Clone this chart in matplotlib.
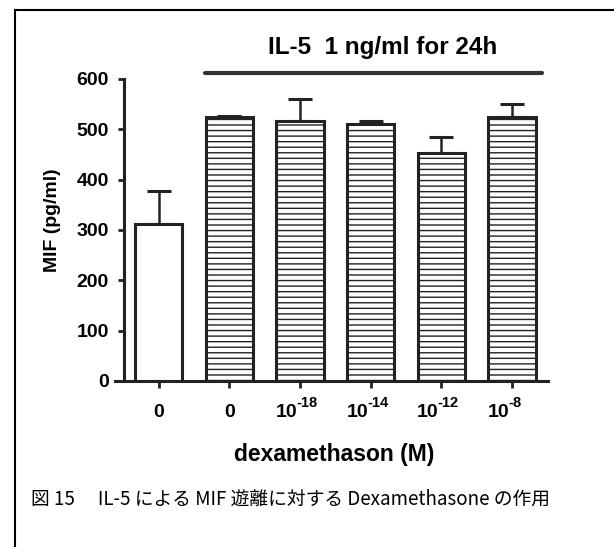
import numpy as np
import matplotlib
matplotlib.use("Agg")
import matplotlib.pyplot as plt
from matplotlib.lines import Line2D

# MIF 測定値 (pg/ml), 平均と SD
groups = ["0", "0", "-18", "-14", "-12", "-8"]   # 0 か 10 の指数
mif_mean = [312, 524, 516, 510, 453, 524]
mif_sd = [65, 2, 44, 7, 32, 26]
il5_treated = [False, True, True, True, True, True]

yticks = [0, 100, 200, 300, 400, 500, 600]

plt.rcParams['font.family'] = ['Liberation Sans', 'DejaVu Sans']
plt.rcParams['hatch.linewidth'] = 1.0

fig = plt.figure(figsize=(6.14, 5.47), dpi=100)
ax = fig.add_axes([0.1873, 0.3035, 0.7052, 0.5521])

x = np.arange(len(groups))
ink = '#222222'
for i in range(len(groups)):
    ax.bar(x[i], mif_mean[i], width=0.67, color='white', edgecolor=ink,
           linewidth=2.2, hatch='---' if il5_treated[i] else None, zorder=2)
    ax.errorbar(x[i], mif_mean[i], yerr=[[0], [mif_sd[i]]], fmt='none',
                ecolor=ink, elinewidth=1.8, capsize=8.5, capthick=2.2, zorder=1)

ax.set_xlim(-0.62, 5.51)
ax.set_ylim(0, 600)

ax.spines['top'].set_visible(False)
ax.spines['right'].set_visible(False)
ax.spines['left'].set_position(('data', -0.49))
for side in ['left', 'bottom']:
    ax.spines[side].set_linewidth(2.2)
    ax.spines[side].set_color(ink)

ax.set_yticks(yticks)
ax.set_yticklabels([str(v) for v in yticks], fontsize=14, fontweight='bold')
ax.tick_params(axis='y', length=4, width=2, color=ink, pad=7)
ax.set_xticks(x)
ax.set_xticklabels([''] * len(groups))
ax.tick_params(axis='x', length=5, width=2, color=ink)

# x 軸ラベル: 0 または 10 のべき
xtrans = ax.get_xaxis_transform()
for i, g in enumerate(groups):
    if g == "0":
        ax.annotate("0", xy=(x[i], 0), xycoords=xtrans, xytext=(0, -22.5),
                    textcoords='offset points', ha='center', va='center',
                    fontsize=14, fontweight='bold')
    else:
        ax.annotate("10", xy=(x[i], 0), xycoords=xtrans, xytext=(-2, -22.5),
                    textcoords='offset points', ha='right', va='center',
                    fontsize=14, fontweight='bold')
        ax.annotate(g, xy=(x[i], 0), xycoords=xtrans, xytext=(-2.5, -16),
                    textcoords='offset points', ha='left', va='center',
                    fontsize=10.5, fontweight='bold')

ax.set_ylabel('MIF (pg/ml)', fontsize=14, fontweight='bold')
ax.yaxis.set_label_coords(-0.125, 0.533)
ax.set_xlabel('dexamethason (M)', fontsize=16.5, fontweight='bold')
ax.xaxis.set_label_coords(0.506, -0.205)

# IL-5 処理群を示す横線とラベル
ax.plot([0.65, 5.42], [612, 612], color='#333333', lw=3, clip_on=False,
        solid_capstyle='round')
ax.text(3.17, 662, 'IL-5  1 ng/ml for 24h', ha='center', va='center',
        fontsize=17.5, fontweight='bold')

# 外枠 (左と上)
fig.add_artist(Line2D([15 / 614, 15 / 614], [0, 1 - 10 / 547], color='black', lw=1.5))
fig.add_artist(Line2D([15 / 614, 1], [1 - 10 / 547, 1 - 10 / 547], color='black', lw=1.5))

fig.text(31 / 614, 1 - 499 / 547,
         '図 15　 IL-5 による MIF 遊離に対する Dexamethasone の作用',
         ha='left', va='center', fontsize=13.5,
         family=['Noto Sans CJK JP', 'DejaVu Sans'])

fig.savefig('out.png', dpi=100)
